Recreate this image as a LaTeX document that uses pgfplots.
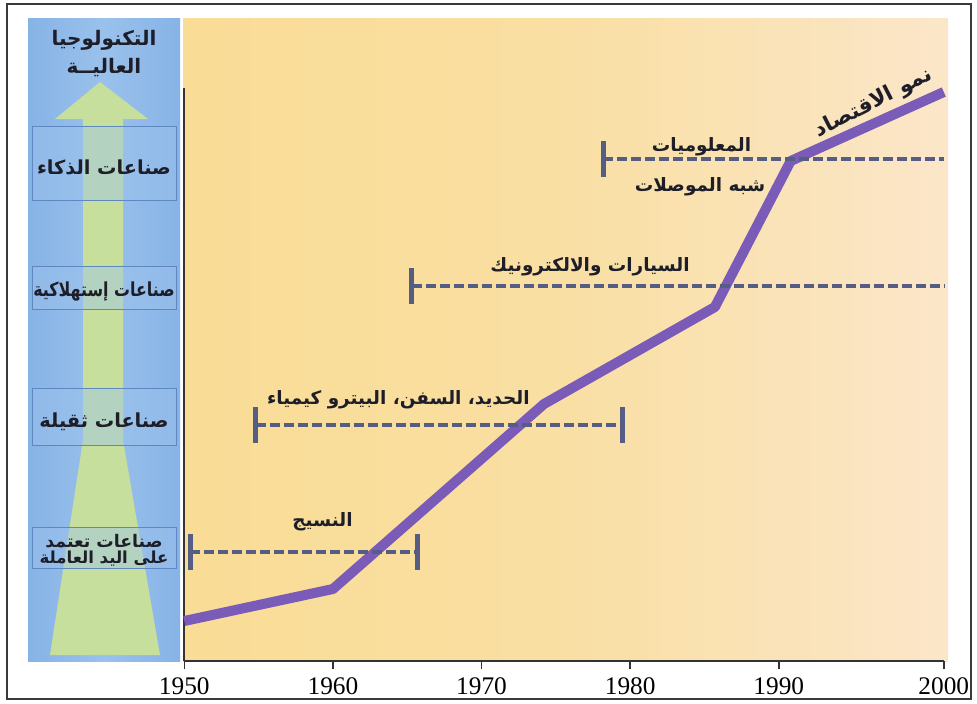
\documentclass[border=0pt]{standalone}
\usepackage{pgfplots}
\pgfplotsset{compat=1.18}
\usepackage{fontspec}
\setmainfont{Liberation Serif}
\newfontfamily\arabicfont[Script=Arabic]{DejaVu Sans}
\TeXXeTstate=1
\newcommand{\ar}[1]{{\arabicfont\bfseries\beginR #1\endR}}
\definecolor{framecol}{HTML}{3A3A3A}
\definecolor{yelL}{HTML}{F9DC95}
\definecolor{yelM}{HTML}{F9DFA3}
\definecolor{yelR}{HTML}{FBE6C9}
\definecolor{blueE}{HTML}{86B3E6}
\definecolor{blueM}{HTML}{9AC1EC}
\definecolor{greenA}{HTML}{C6DF9C}
\definecolor{boxfill}{HTML}{9DC3EE}
\definecolor{boxline}{HTML}{5F88C0}
\definecolor{econ}{HTML}{7A5BB8}
\definecolor{dashcol}{HTML}{555D84}
\definecolor{txtcol}{HTML}{1E1E28}
\definecolor{axiscol}{HTML}{333333}
\tikzset{
  rngline/.style={color=dashcol, line width=3pt, dash pattern=on 7.5pt off 3pt},
  endcap/.style={only marks, mark=|, mark size=13.5pt, mark options={line width=3.75pt, color=dashcol, solid}},
  lbl/.style={text=txtcol, inner sep=0pt, font=\fontsize{13.8}{16}\selectfont},
  ptxt/.style={text=txtcol, inner sep=0pt, font=\fontsize{14.5}{16}\selectfont},
}
\begin{document}
\begin{tikzpicture}
\begin{scope}[x=0.75pt,y=-0.75pt]
\useasboundingbox (0,0) rectangle (977,703);
\fill[white] (0,0) rectangle (977,703);
\draw[line width=1.5pt, framecol] (7,4) rectangle (971,699);
\shade[left color=yelL, right color=yelR, middle color=yelM] (183,18) rectangle (948,661);
\shade[left color=blueE, right color=blueE, middle color=blueM] (28,18) rectangle (180,661);
\fill[greenA] (100,82) -- (148,119) -- (123,119) -- (123,440) -- (160,655) -- (50,655) -- (83,440) -- (83,119) -- (55,119) -- cycle;
\foreach \ya/\yb in {126/200, 266/309, 388/445, 527/568}{
  \filldraw[fill=boxfill, fill opacity=0.45, draw=boxline, line width=0.5pt] (32,\ya) rectangle (176,\yb);
}
\node[ptxt, font=\fontsize{15}{16}\selectfont] at (104,40) {\ar{التكنولوجيا}};
\node[ptxt, font=\fontsize{15}{16}\selectfont] at (104,68) {\ar{العاليــة}};
\node[ptxt] at (104,167) {\ar{صناعات الذكاء}};
\node[ptxt, xscale=0.82] at (104,292) {\ar{صناعات إستهلاكية}};
\node[ptxt] at (104,422) {\ar{صناعات ثقيلة}};
\node[ptxt, font=\fontsize{13}{14}\selectfont] at (104,541) {\ar{صناعات تعتمد}};
\node[ptxt, font=\fontsize{12.4}{14}\selectfont] at (104,559) {\ar{على اليد العاملة}};
\end{scope}
\begin{axis}[
  at={(138.225pt,-495.75pt)}, anchor=south west,
  scale only axis, width=569.6pt, height=429.75pt,
  xmin=1950, xmax=2001.1, ymin=0, ymax=573,
  axis lines=left, axis line style={-, line width=1.5pt, color=axiscol},
  xtick={1950,1960,1970,1980,1990,2001.1},
  xticklabels={1950,1960,1970,1980,1990,2000},
  ytick=\empty,
  tick align=outside, major tick length=6pt,
  xtick style={line width=1.2pt, color=axiscol},
  xticklabel style={font=\fontsize{19}{20}\selectfont, text=black, yshift=-3pt},
  /pgf/number format/assume math mode=true,
  clip=false,
]
\addplot[econ, line width=7.5pt, line join=round] coordinates {(1950,40) (1960,72) (1974.2,257) (1985.7,354) (1990.8,500) (2001.1,569)};
\addplot[rngline] coordinates {(1950.4,109) (1965.7,109)};
\addplot[endcap] coordinates {(1950.4,109) (1965.7,109)};
\addplot[rngline] coordinates {(1954.8,236) (1979.5,236)};
\addplot[endcap] coordinates {(1954.8,236) (1979.5,236)};
\addplot[rngline] coordinates {(1965.3,375) (2001.1,375)};
\addplot[endcap] coordinates {(1965.3,375)};
\addplot[rngline] coordinates {(1978.2,502) (2001.1,502)};
\addplot[endcap] coordinates {(1978.2,502)};
\node[lbl] at (axis cs:1959.3,139) {\ar{النسيج}};
\node[lbl] at (axis cs:1964.4,261) {\ar{الحديد، السفن، البيترو كيمياء}};
\node[lbl] at (axis cs:1977.3,394) {\ar{السيارات والالكترونيك}};
\node[lbl] at (axis cs:1984.8,514) {\ar{المعلوميات}};
\node[lbl] at (axis cs:1984.7,474) {\ar{شبه الموصلات}};
\node[lbl, rotate=27, font=\fontsize{16}{18}\selectfont] at (axis cs:1996.4,558) {\ar{نمو الاقتصاد}};
\end{axis}
\end{tikzpicture}
\end{document}
